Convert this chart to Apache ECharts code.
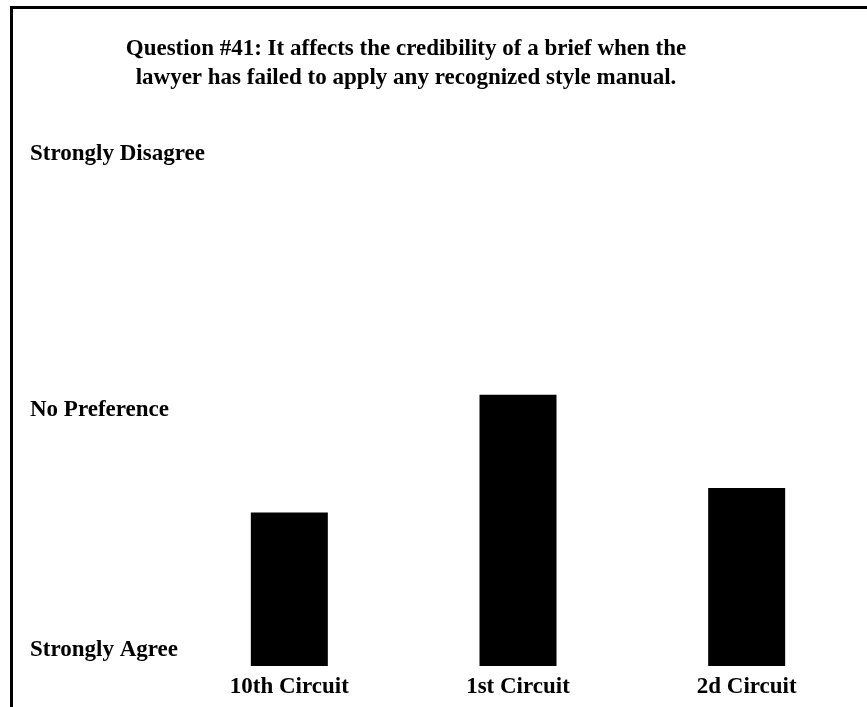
<!DOCTYPE html>
<html>
<head>
<meta charset="utf-8">
<script src="https://cdn.jsdelivr.net/npm/echarts@6/dist/echarts.min.js"></script>
<style>
html, body { margin: 0; padding: 0; background: #fff; }
#chart { width: 867px; height: 707px; }
</style>
</head>
<body>
<div id="chart"></div>
<script>
var titleText = "Question #41: It affects the credibility of a brief when the\nlawyer has failed to apply any recognized style manual.";
var categories = ["10th Circuit", "1st Circuit", "2d Circuit"];
var values = [2.20, 3.12, 2.39];
var scaleValues = [1, 3, 5];
var scaleLabels = ["Strongly Agree", "No Preference", "Strongly Disagree"];

var FONT = "'Liberation Serif', 'Times New Roman', serif";

var chart = echarts.init(document.getElementById('chart'), null, { renderer: 'canvas' });
chart.setOption({
  backgroundColor: '#fff',
  animation: false,
  title: {
    text: titleText,
    left: 406,
    top: 35,
    padding: 0,
    textAlign: 'center',
    textStyle: {
      fontFamily: FONT, fontWeight: 'bold', fontSize: 23, lineHeight: 29, color: '#000'
    }
  },
  graphic: [{
    type: 'polyline',
    silent: true,
    shape: { points: [[11.5, 707], [11.5, 7.5], [867, 7.5]] },
    style: { stroke: '#000', lineWidth: 3, fill: null }
  }],
  grid: { left: 175, right: 6, top: 154, bottom: 41, containLabel: false },
  xAxis: {
    type: 'category',
    data: categories,
    axisLine: { show: false },
    axisTick: { show: false },
    axisLabel: {
      margin: 10,
      fontFamily: FONT, fontWeight: 'bold', fontSize: 23, color: '#000'
    }
  },
  yAxis: {
    type: 'value',
    min: 1,
    max: 5,
    interval: 1,
    axisLine: { show: false },
    axisTick: { show: false },
    splitLine: { show: false },
    axisLabel: {
      margin: 145,
      align: 'left',
      fontFamily: FONT, fontWeight: 'bold', fontSize: 23, color: '#000',
      formatter: function (v) {
        var i = scaleValues.indexOf(v);
        if (i < 0) return '';
        if (i === 0) return '{lift|' + scaleLabels[i] + '}';
        return scaleLabels[i];
      },
      rich: {
        lift: {
          fontFamily: FONT, fontWeight: 'bold', fontSize: 23, color: '#000',
          padding: [0, 0, 32, 0]
        }
      }
    }
  },
  series: [{
    type: 'bar',
    data: values,
    barWidth: 77,
    clip: true,
    itemStyle: { color: '#000' }
  }]
});
</script>
</body>
</html>
